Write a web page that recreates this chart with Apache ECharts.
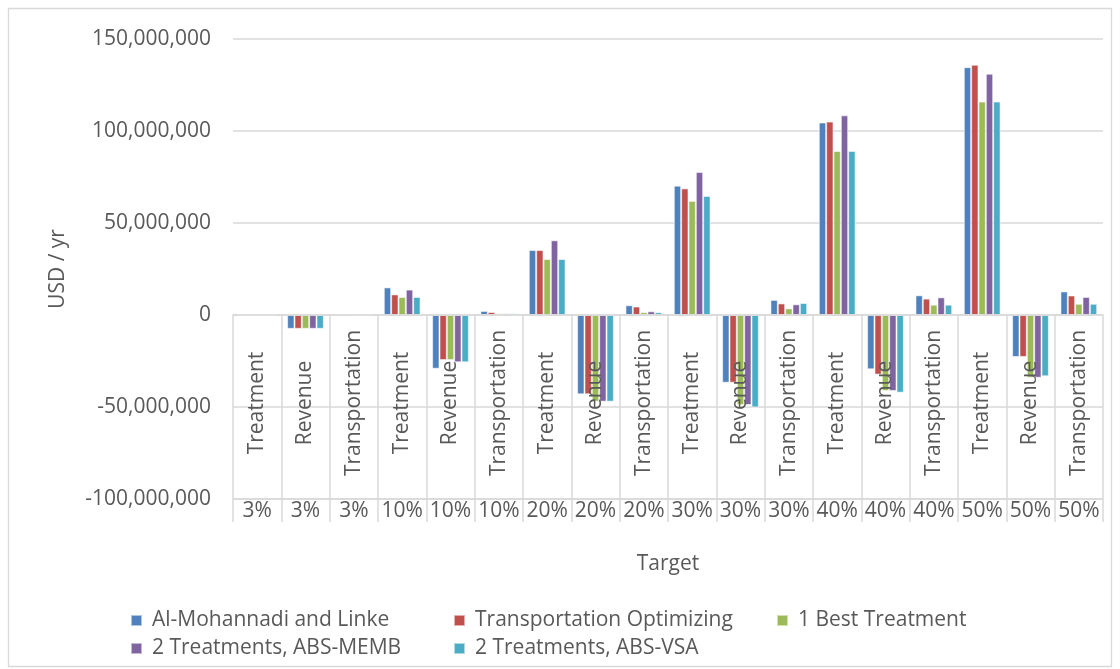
<!DOCTYPE html>
<html>
<head>
<meta charset="utf-8">
<script src="https://cdn.jsdelivr.net/npm/echarts@6/dist/echarts.min.js"></script>
<style>
  html, body { margin: 0; padding: 0; background: #ffffff; }
  #chart { width: 1120px; height: 669px; }
</style>
</head>
<body>
<div id="chart"></div>
<script>
// Cost component shown in each column (inner category level)
const measures = [
  'Treatment', 'Revenue', 'Transportation',
  'Treatment', 'Revenue', 'Transportation',
  'Treatment', 'Revenue', 'Transportation',
  'Treatment', 'Revenue', 'Transportation',
  'Treatment', 'Revenue', 'Transportation',
  'Treatment', 'Revenue', 'Transportation'
];
// Removal target of each column (outer category level)
const targets = [
  '3%', '3%', '3%', '10%', '10%', '10%', '20%', '20%', '20%',
  '30%', '30%', '30%', '40%', '40%', '40%', '50%', '50%', '50%'
];

const seriesNames = [
  'Al-Mohannadi and Linke',
  'Transportation Optimizing',
  '1 Best Treatment',
  '2 Treatments, ABS-MEMB',
  '2 Treatments, ABS-VSA'
];

// Annual amounts, million USD
const alMohannadiLinke = [0, -7.5, 0.5, 15.0, -29.2, 2.2, 35.3, -43.1, 5.3, 70.3, -36.8, 8.2, 104.6, -29.5, 10.7, 134.7, -22.8, 12.8];
const transportOptimizing = [0, -7.5, 0.5, 11.2, -24.5, 1.6, 35.3, -43.1, 4.6, 68.8, -36.8, 6.3, 105.1, -32.4, 8.9, 136.0, -22.8, 10.6];
const bestTreatment = [0, -7.5, 0.2, 9.8, -24.5, 0.9, 30.4, -47.1, 1.5, 62.0, -48.9, 3.6, 89.1, -41.3, 5.6, 116.0, -34.1, 6.1];
const absMemb = [0, -7.5, 0.2, 13.8, -25.7, 0.9, 40.6, -47.1, 2.0, 77.7, -48.9, 5.8, 108.5, -41.3, 9.6, 131.1, -34.1, 9.8];
const absVsa = [0, -7.5, 0.2, 9.8, -25.7, 0.9, 30.4, -47.1, 1.5, 64.7, -50.2, 6.5, 89.1, -42.2, 5.6, 116.0, -33.3, 6.1];

const seriesValues = [alMohannadiLinke, transportOptimizing, bestTreatment, absMemb, absVsa];
const seriesColors = ['#4F81BD', '#C0504D', '#9BBB59', '#8064A2', '#4BACC6'];

// Value axis range, USD / yr
const yMin = -100000000;
const yMax = 150000000;
const yStep = 50000000;

const FONT = 'Open Sans';
const TEXT = '#595959';
const LINE = '#d9d9d9';

const gridTop = 39;
const gridBottom = 170;
const plotHeight = 669 - gridTop - gridBottom;
// distance from the bottom of the plot up to the zero line
const zeroLift = plotHeight * (0 - yMin) / (yMax - yMin);

const chart = echarts.init(document.getElementById('chart'), null, { renderer: 'canvas' });

chart.setOption({
  animation: false,
  backgroundColor: '#ffffff',
  textStyle: { fontFamily: FONT, color: TEXT },
  graphic: [{
    type: 'rect',
    shape: { x: 8.5, y: 8.5, width: 1103, height: 658 },
    style: { fill: 'none', stroke: LINE, lineWidth: 1.3 },
    silent: true
  }],
  grid: { left: 233, right: 17, top: gridTop, bottom: gridBottom },
  legend: {
    data: seriesNames,
    left: 130,
    top: 610,
    padding: 0,
    orient: 'horizontal',
    icon: 'rect',
    itemWidth: 11,
    itemHeight: 11,
    itemGap: 7,
    textStyle: {
      fontFamily: FONT,
      fontSize: 21,
      color: TEXT,
      lineHeight: 21,
      width: 294,
      padding: [0, 0, 0, 5]
    }
  },
  xAxis: [
    {
      // inner level, hung from the zero line
      type: 'category',
      data: measures,
      position: 'bottom',
      offset: -zeroLift,
      z: 5,
      axisLine: { onZero: false, lineStyle: { color: LINE, width: 1.5 } },
      axisTick: { show: true, interval: 0, length: zeroLift, lineStyle: { color: LINE, width: 1.5 } },
      axisLabel: {
        interval: 0,
        rotate: 90,
        align: 'center',
        verticalAlign: 'middle',
        margin: zeroLift / 2 - 4,
        fontFamily: FONT,
        fontSize: 21,
        color: TEXT
      },
      splitLine: { show: false }
    },
    {
      // outer level, along the bottom of the plot
      type: 'category',
      data: targets,
      position: 'bottom',
      z: 5,
      axisLine: { onZero: false, lineStyle: { color: LINE, width: 1.5 } },
      axisTick: { show: true, interval: 0, length: 23, lineStyle: { color: LINE, width: 1.5 } },
      axisLabel: {
        interval: 0,
        margin: 2,
        fontFamily: FONT,
        fontSize: 21,
        lineHeight: 21,
        color: TEXT
      },
      splitLine: { show: false },
      name: 'Target',
      nameLocation: 'middle',
      nameGap: 55,
      nameTextStyle: { fontFamily: FONT, fontSize: 21, color: TEXT }
    }
  ],
  yAxis: {
    type: 'value',
    min: yMin,
    max: yMax,
    interval: yStep,
    axisLine: { show: false },
    axisTick: { show: false },
    splitLine: { show: true, lineStyle: { color: LINE, width: 1.5 } },
    axisLabel: {
      margin: 22,
      fontFamily: FONT,
      fontSize: 21,
      color: TEXT,
      formatter: v => v.toLocaleString('en-US')
    },
    name: 'USD / yr',
    nameLocation: 'middle',
    nameRotate: 90,
    nameGap: 164,
    nameTextStyle: { fontFamily: FONT, fontSize: 21, color: TEXT }
  },
  series: seriesNames.map((name, i) => ({
    name,
    type: 'bar',
    xAxisIndex: 0,
    barGap: '0%',
    barCategoryGap: '24%',
    itemStyle: {
      color: seriesColors[i],
      borderColor: 'rgba(255,255,255,0.55)',
      borderWidth: 1
    },
    data: seriesValues[i].map(v => v * 1e6)
  }))
});
</script>
</body>
</html>
